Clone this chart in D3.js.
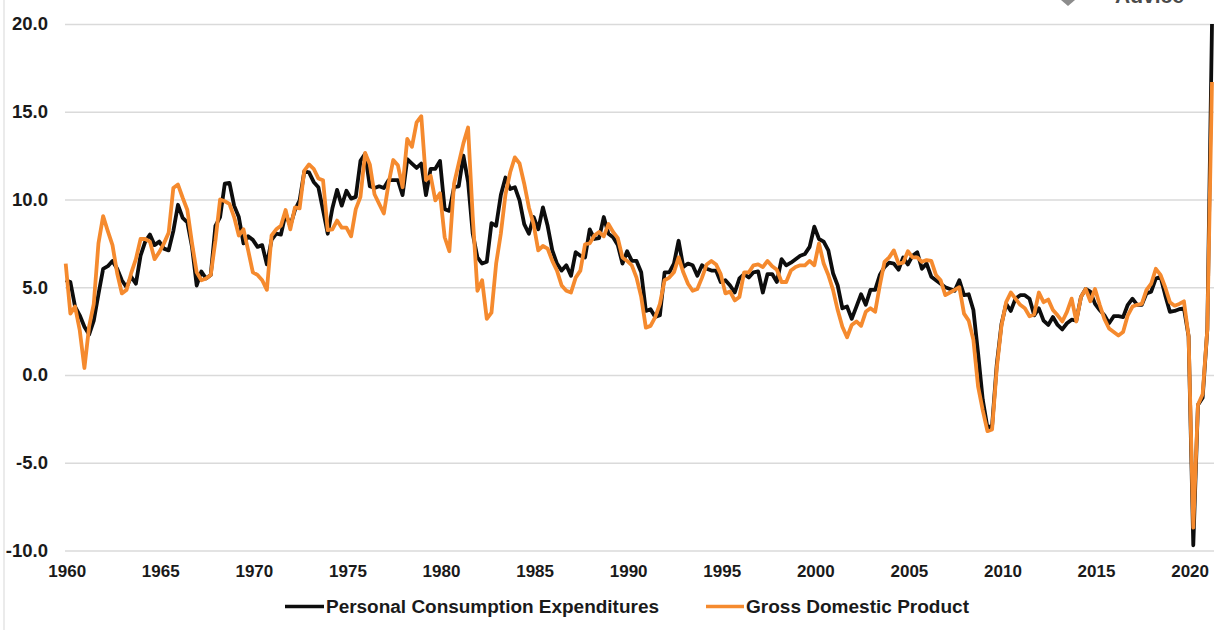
<!DOCTYPE html>
<html><head><meta charset="utf-8">
<style>html,body{margin:0;padding:0;background:#fff}svg{display:block}
text{font-family:"Liberation Sans",Arial,sans-serif;font-weight:bold;fill:#1a1a1a}</style>
<script src="https://cdnjs.cloudflare.com/ajax/libs/d3/7.8.5/d3.min.js"></script>
</head><body><svg id="c" width="1222" height="630"></svg>
<script>
const startYear = 1960;
const pce = [
5.4,5.3,3.9,3.4, 2.75,2.3,3.1,4.6, 6.05,6.2,6.5,6.05, 5.4,5.0,5.6,5.2,
6.8,7.6,8.0,7.4, 7.6,7.2,7.1,8.2, 9.7,8.95,8.7,7.3, 5.1,5.9,5.5,5.7,
8.5,9.0,10.9,10.95, 9.65,9.0,7.5,7.9, 7.7,7.3,7.4,6.3, 7.7,8.05,8.0,9.2,
8.5,9.4,9.95,11.6, 11.55,11.0,10.7,9.4, 8.05,9.5,10.55,9.65, 10.5,10.05,10.15,12.2,
12.6,10.75,10.65,10.75, 10.65,11.1,11.1,11.1, 10.25,12.3,12.05,11.8, 12.05,10.25,11.75,11.75,
12.2,9.45,9.35,10.7, 10.75,12.5,11.0,8.05, 6.7,6.35,6.45,8.65, 8.5,10.25,11.25,10.6,
10.7,9.95,8.6,8.05, 9.0,8.3,9.55,8.5, 7.1,6.35,5.95,6.25, 5.65,7.0,6.8,6.7,
8.3,7.75,7.8,9.0, 8.05,7.85,7.4,6.35, 7.05,6.5,6.5,5.85, 3.65,3.75,3.3,3.4,
5.85,5.85,6.35,7.65, 6.15,6.35,6.25,5.65, 6.25,6.05,5.95,5.95, 5.3,5.4,5.1,4.7,
5.5,5.75,5.55,5.85, 5.9,4.7,5.75,5.75, 5.3,6.6,6.25,6.4, 6.6,6.8,6.9,7.3,
8.45,7.75,7.6,7.1, 5.8,5.1,3.8,3.9, 3.2,3.9,4.6,4.0, 4.85,4.85,5.7,6.15,
6.4,6.35,6.0,6.7, 6.3,6.8,7.0,6.05, 6.35,5.6,5.4,5.2, 5.0,4.9,4.8,5.4,
4.55,4.6,3.7,1.25, -1.4,-3.0,-2.9,0.6, 2.9,4.05,3.65,4.35, 4.55,4.55,4.35,3.4,
3.8,3.1,2.85,3.3, 2.85,2.6,2.95,3.15, 3.1,4.45,4.9,4.75, 4.05,3.7,3.4,2.95,
3.35,3.35,3.3,4.0, 4.35,4.0,4.0,4.65, 4.75,5.5,5.6,4.55, 3.6,3.65,3.75,3.8,
2.2,-9.7,-1.7,-1.3, 2.6,20.0];
const gdp = [
6.35,3.5,3.9,2.55, 0.4,2.75,4.05,7.5, 9.05,8.2,7.4,5.8, 4.65,4.85,5.8,6.6,
7.75,7.75,7.6,6.6, 7.0,7.5,8.1,10.65, 10.85,10.1,9.4,7.5, 5.85,5.4,5.5,5.7,
7.65,10.0,9.9,9.75, 9.0,7.95,8.3,7.1, 5.85,5.7,5.4,4.85, 7.95,8.3,8.5,9.4,
8.3,9.55,9.5,11.65, 12.0,11.75,11.2,11.1, 8.25,8.3,8.8,8.4, 8.4,7.9,9.45,10.15,
12.65,12.0,10.3,9.75, 9.2,10.9,12.25,11.95, 10.7,13.45,13.0,14.4, 14.75,11.1,11.35,9.95,
10.35,7.85,7.05,10.9, 12.05,13.2,14.1,9.0, 4.8,5.4,3.2,3.55, 6.35,8.05,10.3,11.55,
12.4,12.05,10.9,9.55, 8.6,7.1,7.35,7.2, 6.5,5.95,5.1,4.8, 4.7,5.55,5.95,7.45,
7.5,7.95,8.15,7.9, 8.6,8.15,7.8,6.7, 6.5,6.25,5.55,4.45, 2.7,2.8,3.3,4.05,
5.4,5.55,5.85,6.7, 5.85,5.2,4.8,4.9, 5.55,6.3,6.5,6.3, 5.75,4.65,4.75,4.25,
4.45,5.85,5.85,6.25, 6.3,6.15,6.5,6.2, 6.0,5.3,5.3,5.95, 6.15,6.25,6.25,6.5,
6.25,7.5,6.35,5.7, 4.85,3.7,2.75,2.15, 2.85,3.05,2.8,3.6, 3.8,3.6,5.1,6.45,
6.7,7.1,6.35,6.4, 7.05,6.7,6.7,6.45, 6.55,6.5,5.7,5.4, 4.55,4.7,4.85,5.0,
3.5,3.1,2.0,-0.65, -2.0,-3.2,-3.1,0.4, 2.8,4.15,4.7,4.35, 4.0,3.8,3.35,3.45,
4.7,4.15,4.3,3.7, 3.4,3.05,3.6,4.35, 3.05,4.45,4.9,4.2, 4.9,4.0,3.2,2.65,
2.45,2.25,2.45,3.4, 3.9,4.0,4.05,4.85, 5.2,6.05,5.7,5.0, 4.15,3.95,4.05,4.2,
2.2,-8.7,-1.7,-1.1, 2.6,16.7];
const yTicks = [-10,-5,0,5,10,15,20];
const xTicks = [1960,1965,1970,1975,1980,1985,1990,1995,2000,2005,2010,2015,2020];
const seriesNames = ["Personal Consumption Expenditures","Gross Domestic Product"];
const colors = ["#0d0d0d","#f58a2e"];

const svg = d3.select("#c");
const x = d3.scaleLinear().domain([1960,2021.25]).range([65.7,1212]);
const y = d3.scaleLinear().domain([-10,20]).range([550.5,24]);
const yearOf = i => startYear + i/4;
const font = '"Liberation Sans",Arial,sans-serif';

svg.append("line").attr("x1",4).attr("x2",4).attr("y1",0).attr("y2",630)
  .attr("stroke","#e4e4e4").attr("stroke-width",1.5);

const gy = svg.append("g").attr("transform","translate(65,0)")
  .call(d3.axisLeft(y).tickValues(yTicks).tickFormat(d => d.toFixed(1)).tickSize(-1149).tickPadding(17));
gy.select(".domain").remove();
gy.selectAll("line").attr("stroke","#dadada").attr("stroke-width",1.3);
gy.selectAll("text").style("font-size","18.5px").style("font-family",font);

const gx = svg.append("g").attr("transform","translate(1,565)")
  .call(d3.axisBottom(x).tickValues(xTicks).tickFormat(d3.format("d")).tickSize(0).tickPadding(0));
gx.select(".domain").remove();
gx.selectAll("text").style("font-size","17px").style("font-family",font);

const line = d3.line().x((d,i)=>x(yearOf(i))).y(d=>y(d)).curve(d3.curveLinear);
[pce,gdp].forEach((s,k)=>{
  svg.append("path").datum(s).attr("d",line).attr("fill","none")
    .attr("stroke",colors[k]).attr("stroke-width",3.8).attr("stroke-linejoin","round");
});

const legend = [{x:285,w:39,t:333},{x:706,w:38,t:223}];
legend.forEach((l,k)=>{
  svg.append("line").attr("x1",l.x).attr("x2",l.x+l.w).attr("y1",606.5).attr("y2",606.5)
    .attr("stroke",colors[k]).attr("stroke-width",3.6);
  svg.append("text").attr("x",l.x+l.w+2).attr("y",613).style("font-size","17.5px")
    .attr("textLength",l.t).attr("lengthAdjust","spacingAndGlyphs").text(seriesNames[k]);
});

svg.append("text").attr("x",1115).attr("y",3).style("font-size","21px").style("fill","#4a4a4a").text("Advice");
svg.append("path").attr("d",d3.line()([[1061,0],[1075,0],[1068,6]])).attr("fill","#8c8c8c");
</script></body></html>
